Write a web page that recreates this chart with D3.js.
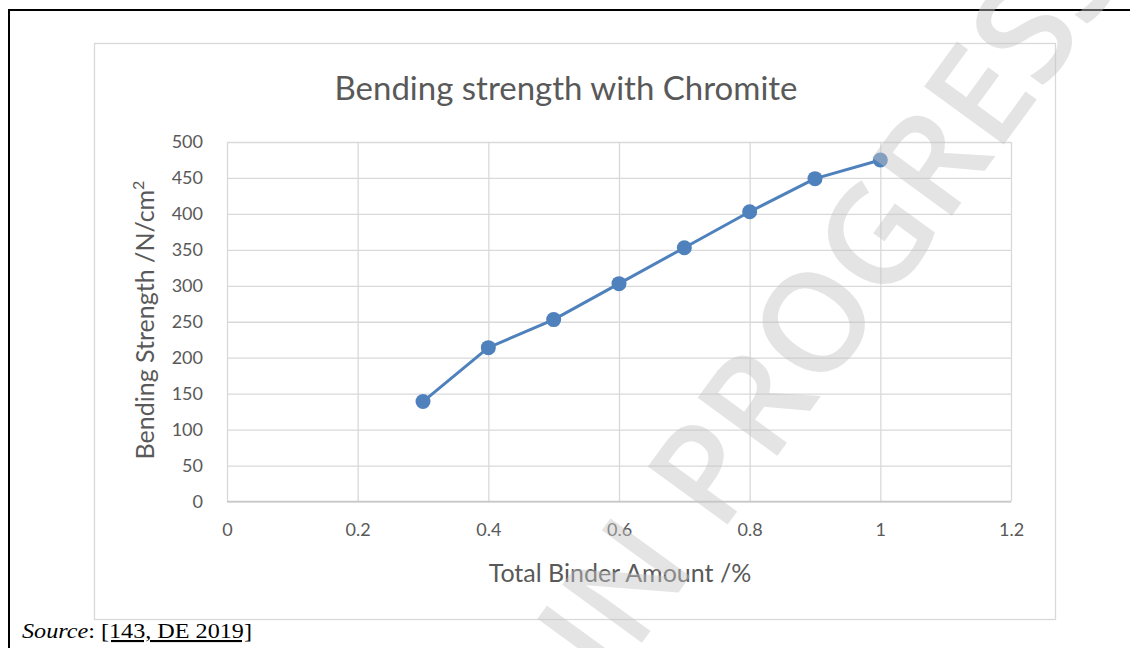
<!DOCTYPE html>
<html><head><meta charset="utf-8">
<script src="https://cdn.jsdelivr.net/npm/d3@7"></script>
<style>
body{margin:0;background:#fff;}
svg{display:block;}
</style>
</head><body>
<svg id="chart" width="1130" height="648"></svg>
<script>
// ---- data ----
const binderAmounts = [0.3, 0.4, 0.5, 0.6, 0.7, 0.8, 0.9, 1.0];
const bendingStrength = [139, 214, 253, 303, 353, 403, 449, 475];
const xTickValues = [0, 0.2, 0.4, 0.6, 0.8, 1, 1.2];
const yTickValues = [0, 50, 100, 150, 200, 250, 300, 350, 400, 450, 500];
const chartTitle = "Bending strength with Chromite";
const xAxisTitle = "Total Binder Amount /%";
const yAxisTitle = "Bending Strength /N/cm";
const sourceLabel = "Source";
const sourceRef = "[143, DE 2019]";
const watermarkA = "WORKING DRAFT IN";
const watermarkB = "PROGRESS";

const svg = d3.select("#chart");
const font = "Lato, 'Open Sans', sans-serif";
const textColor = "#595959";
const gridColor = "#d9d9d9";
const lineColor = "#4f81bd";

const plot = {left: 227, right: 1011, top: 142, bottom: 501.5};
const x = d3.scaleLinear().domain([0, 1.2]).range([plot.left, plot.right]);
const y = d3.scaleLinear().domain([0, 500]).range([plot.bottom, plot.top]);

// outer document frame (left + top lines)
svg.append("line").attr("x1", 9).attr("x2", 9).attr("y1", 9).attr("y2", 648)
  .attr("stroke", "#000").attr("stroke-width", 2);
svg.append("line").attr("x1", 8).attr("x2", 1130).attr("y1", 10).attr("y2", 10)
  .attr("stroke", "#000").attr("stroke-width", 2);

// chart area border
svg.append("rect").attr("x", 94.5).attr("y", 43.5).attr("width", 961).attr("height", 576)
  .attr("fill", "#fff").attr("stroke", gridColor).attr("stroke-width", 1.3);

// title
svg.append("text").attr("x", 566).attr("y", 100)
  .attr("text-anchor", "middle").attr("font-family", font).attr("font-size", 33)
  .attr("fill", textColor).text(chartTitle);

// horizontal gridlines via axis
const yAxis = d3.axisLeft(y).tickValues(yTickValues).tickSize(-(plot.right - plot.left)).tickPadding(24).tickFormat(d3.format("d"));
const gy = svg.append("g").attr("transform", `translate(${plot.left},0)`).call(yAxis);
gy.select(".domain").remove();
gy.selectAll(".tick line").attr("stroke", gridColor).attr("stroke-width", 1.3);
gy.selectAll(".tick text").attr("font-family", font).attr("font-size", 18).attr("fill", textColor)
  .attr("x", -24);

// vertical gridlines via axis
const xAxis = d3.axisBottom(x).tickValues(xTickValues).tickSize(-(plot.bottom - plot.top)).tickPadding(22).tickFormat(d => String(d));
const gx = svg.append("g").attr("transform", `translate(0,${plot.bottom})`).call(xAxis);
gx.select(".domain").remove();
gx.selectAll(".tick line").attr("stroke", gridColor).attr("stroke-width", 1.3);
gx.selectAll(".tick text").attr("font-family", font).attr("font-size", 18).attr("fill", textColor);

// bottom axis line
svg.append("line").attr("x1", plot.left).attr("x2", plot.right).attr("y1", plot.bottom).attr("y2", plot.bottom)
  .attr("stroke", "#c8c8c8").attr("stroke-width", 1.5);

// axis titles
svg.append("text").attr("x", 620).attr("y", 582).attr("text-anchor", "middle")
  .attr("font-family", font).attr("font-size", 25).attr("fill", textColor).text(xAxisTitle);
const yt = svg.append("text").attr("transform", "translate(154,320) rotate(-90)").attr("text-anchor", "middle")
  .attr("font-family", font).attr("font-size", 25).attr("fill", textColor);
yt.append("tspan").text(yAxisTitle);
yt.append("tspan").attr("font-size", 16).attr("dy", -10).text("2");

// series
const pts = binderAmounts.map((b, i) => [b, bendingStrength[i]]);
svg.append("path").datum(pts)
  .attr("fill", "none").attr("stroke", lineColor).attr("stroke-width", 3).attr("stroke-linejoin", "round")
  .attr("d", d3.line().x(d => x(d[0])).y(d => y(d[1])));
svg.selectAll("circle.pt").data(pts).join("circle").attr("class", "pt")
  .attr("cx", d => x(d[0])).attr("cy", d => y(d[1])).attr("r", 7.5).attr("fill", lineColor);

// source line
const src = svg.append("text").attr("x", 22).attr("y", 638)
  .attr("font-family", "'Liberation Serif', 'Times New Roman', serif").attr("font-size", 21).attr("fill", "#000")
  .attr("textLength", 230).attr("lengthAdjust", "spacingAndGlyphs");
src.append("tspan").attr("font-style", "italic").text(sourceLabel);
src.append("tspan").text(": ");
src.append("tspan").attr("text-decoration", "underline").text(sourceRef);

// watermark overlay
const wm = svg.append("g").attr("transform", "translate(720,535) rotate(-54)")
  .attr("opacity", 0.45);
wm.append("text").attr("x", 0).attr("y", 0).attr("text-anchor", "start")
  .attr("font-family", "'Open Sans', sans-serif").attr("font-weight", 600).attr("font-size", 138)
  .attr("fill", "#c4c4c4").text(watermarkB);
wm.append("text").attr("x", -38).attr("y", 0).attr("text-anchor", "end")
  .attr("font-family", "'Open Sans', sans-serif").attr("font-weight", 600).attr("font-size", 138)
  .attr("fill", "#c4c4c4").text(watermarkA);
</script>
</body></html>
